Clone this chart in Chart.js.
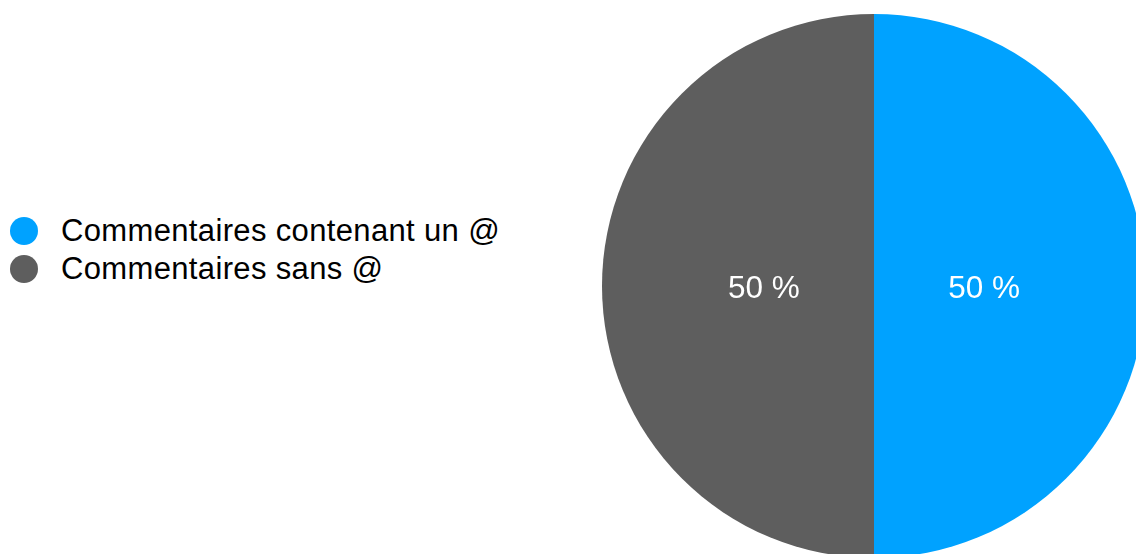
<!doctype html>
<html>
	<head>
		<title>Commentaires</title>
		<script src="https://cdn.jsdelivr.net/npm/chart.js@4/dist/chart.umd.min.js"></script>
		<style>
			html, body {
				margin: 0;
				padding: 0;
				width: 1136px;
				height: 554px;
				overflow: hidden;
				background: #fff;
				font-family: "Liberation Sans", Arial, sans-serif;
			}
			#legend {
				position: absolute;
				left: 10px;
				top: 212px;
				font-size: 31px;
				letter-spacing: 0.35px;
				color: #000;
			}
			#legend div {
				height: 38px;
				line-height: 38px;
				white-space: nowrap;
			}
			#legend span {
				display: inline-block;
				width: 28px;
				height: 28px;
				border-radius: 50%;
				margin-right: 23px;
				vertical-align: -4px;
			}
			#wrapper {
				position: absolute;
				left: 602px;
				top: 14px;
				width: 544px;
				height: 544px;
			}
		</style>
	</head>
	<body>
		<div id="legend"></div>
		<div id="wrapper"><canvas id="canvas"></canvas></div>

		<script>
			var labels = ['Commentaires contenant un @', 'Commentaires sans @'];
			var values = [50, 50];
			var colors = ['#00a2ff', '#5e5e5e'];

			// labels in percent, written inside each slice
			var sliceLabels = {
				id: 'sliceLabels',
				afterDatasetsDraw: function(chart) {
					var ctx = chart.ctx;
					var meta = chart.getDatasetMeta(0);
					var total = values.reduce(function(a, b) { return a + b; }, 0);
					ctx.save();
					ctx.fillStyle = '#fff';
					ctx.font = '31.5px "Liberation Sans", Arial, sans-serif';
					ctx.textAlign = 'center';
					ctx.textBaseline = 'middle';
					meta.data.forEach(function(arc, i) {
						var p = arc.getProps(['x', 'y', 'startAngle', 'endAngle', 'outerRadius'], true);
						var a = (p.startAngle + p.endAngle) / 2;
						var r = p.outerRadius * 0.405;
						var pct = Math.round(values[i] / total * 100);
						ctx.fillText(pct + ' %', p.x + Math.cos(a) * r, p.y + Math.sin(a) * r + 3);
					});
					ctx.restore();
				}
			};

			var legend = document.getElementById('legend');
			labels.forEach(function(l, i) {
				var row = document.createElement('div');
				var dot = document.createElement('span');
				dot.style.background = colors[i];
				row.appendChild(dot);
				row.appendChild(document.createTextNode(l));
				legend.appendChild(row);
			});

			new Chart(document.getElementById('canvas'), {
				type: 'pie',
				data: {
					labels: labels,
					datasets: [{
						data: values,
						backgroundColor: colors,
						borderWidth: 0
					}]
				},
				options: {
					responsive: true,
					maintainAspectRatio: false,
					animation: false,
					layout: { padding: 0 },
					plugins: {
						legend: { display: false },
						tooltip: { enabled: false }
					}
				},
				plugins: [sliceLabels]
			});
		</script>
	</body>
</html>
